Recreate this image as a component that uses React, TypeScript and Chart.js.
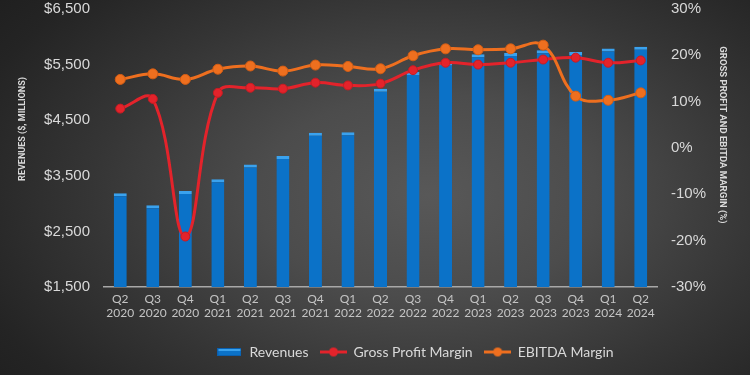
import React, { useEffect, useRef } from "react";
import { Chart, registerables } from "chart.js";

Chart.register(...registerables);

const quarters = ["Q2", "Q3", "Q4", "Q1", "Q2", "Q3", "Q4", "Q1", "Q2", "Q3", "Q4", "Q1", "Q2", "Q3", "Q4", "Q1", "Q2"];
const years = ["2020", "2020", "2020", "2021", "2021", "2021", "2021", "2022", "2022", "2022", "2022", "2023", "2023", "2023", "2023", "2024", "2024"];
const revenues = [3185, 2970, 3225, 3440, 3705, 3855, 4275, 4285, 5065, 5365, 5540, 5685, 5710, 5760, 5725, 5790, 5820];
const grossProfitMargin = [8.5, 10.6, -19.1, 11.9, 13.0, 12.8, 14.1, 13.5, 13.9, 16.8, 18.4, 18.0, 18.4, 19.1, 19.5, 18.4, 18.9];
const ebitdaMargin = [14.8, 16.0, 14.8, 17.0, 17.7, 16.6, 17.9, 17.6, 17.1, 19.9, 21.4, 21.2, 21.4, 22.2, 11.2, 10.3, 11.9];
const revenueTicks = [1500, 2500, 3500, 4500, 5500, 6500];
const marginTicks = [-30, -20, -10, 0, 10, 20, 30];

const BAR = "#0b72c8";
const BAR_TOP = "#3aa2ee";
const RED = "#e3232b";
const ORANGE = "#ee6f1f";

function makeBarIcon() {
  const c = document.createElement("canvas");
  c.width = 24;
  c.height = 8;
  const g = c.getContext("2d")!;
  g.fillStyle = "#0a5fae";
  g.fillRect(0, 0, 24, 8);
  g.fillStyle = BAR;
  g.fillRect(1, 2, 22, 5);
  g.fillStyle = BAR_TOP;
  g.fillRect(1, 1, 22, 2);
  return c;
}

function makeLineIcon(color: string) {
  const c = document.createElement("canvas");
  c.width = 27;
  c.height = 11;
  const g = c.getContext("2d")!;
  g.strokeStyle = color;
  g.lineWidth = 3;
  g.beginPath();
  g.moveTo(0, 5.5);
  g.lineTo(27, 5.5);
  g.stroke();
  g.fillStyle = color;
  g.beginPath();
  g.arc(13.5, 5.5, 4.5, 0, Math.PI * 2);
  g.fill();
  return c;
}

export default function App() {
  const ref = useRef<HTMLCanvasElement>(null);

  useEffect(() => {
    if (!ref.current) return;
    const labels = quarters.map((q, i) => [q, years[i]]);
    const icons = [makeBarIcon(), makeLineIcon(RED), makeLineIcon(ORANGE)];
    const tickFont = { family: "'Liberation Sans', Arial, sans-serif", size: 15 };
    const titleFont = { family: "Roboto, sans-serif", size: 9, weight: "bold" as const };

    const legendShift = {
      id: "legendShift",
      afterLayout(chart: any) {
        const lg = chart.legend;
        if (lg) {
          lg.left += 40;
          lg.right += 40;
        }
      },
    };

    const chart = new Chart(ref.current, {
      type: "bar",
      data: {
        labels,
        datasets: [
          {
            type: "bar",
            label: "Revenues",
            data: revenues,
            yAxisID: "y",
            backgroundColor: BAR,
            borderColor: BAR_TOP,
            borderWidth: { top: 3, left: 0, right: 0, bottom: 0 },
            borderSkipped: "bottom",
            barPercentage: 0.4,
            categoryPercentage: 1,
            order: 3,
          },
          {
            type: "line",
            label: "Gross Profit Margin",
            data: grossProfitMargin,
            yAxisID: "y1",
            borderColor: RED,
            backgroundColor: RED,
            borderWidth: 3,
            pointRadius: 4.5,
            pointBackgroundColor: RED,
            pointBorderColor: "#c81b22",
            pointBorderWidth: 1,
            tension: 0.4,
            order: 2,
          },
          {
            type: "line",
            label: "EBITDA Margin",
            data: ebitdaMargin,
            yAxisID: "y1",
            borderColor: ORANGE,
            backgroundColor: ORANGE,
            borderWidth: 3,
            pointRadius: 5,
            pointBackgroundColor: ORANGE,
            pointBorderColor: "#d45d14",
            pointBorderWidth: 1,
            tension: 0.4,
            order: 1,
          },
        ],
      },
      options: {
        animation: false,
        responsive: false,
        maintainAspectRatio: false,
        layout: { padding: { top: 0, bottom: 6, left: 0, right: 0 } },
        plugins: {
          tooltip: { enabled: false },
          legend: {
            position: "bottom",
            labels: {
              color: "#d9d9d9",
              font: { family: "Lato, 'Open Sans', sans-serif", size: 14 },
              usePointStyle: true,
              pointStyleWidth: 26,
              padding: 12,
              generateLabels: (ch: any) =>
                ch.data.datasets.map((ds: any, i: number) => ({
                  text: ds.label,
                  pointStyle: icons[i],
                  fillStyle: "transparent",
                  strokeStyle: "transparent",
                  lineWidth: 0,
                  fontColor: "#d9d9d9",
                  hidden: false,
                  datasetIndex: i,
                })),
            },
          },
        },
        scales: {
          x: {
            grid: { display: false, drawTicks: false },
            border: { display: true, color: "#a8a8a8", width: 1.5 },
            ticks: {
              color: "#c4c4c4",
              font: { family: "Lato, 'Open Sans', sans-serif", size: 12, lineHeight: 1.1 },
              padding: 6,
              maxRotation: 0,
              autoSkip: false,
            },
            afterFit: (s: any) => {
              s.height = 46;
            },
          },
          y: {
            position: "left",
            min: 1500,
            max: 6500,
            afterBuildTicks: (s: any) => {
              s.ticks = revenueTicks.map((v) => ({ value: v }));
            },
            grid: { display: false, drawTicks: true, tickLength: 14 },
            border: { display: false },
            ticks: {
              color: "#d9d9d9",
              font: tickFont,
              padding: 0,
              callback: (v: any) => "$" + Number(v).toLocaleString("en-US"),
            },
            title: {
              display: true,
              text: "                 REVENUES ($, MILLIONS)",
              color: "#d9d9d9",
              font: titleFont,
              padding: { top: 17, bottom: 0 },
            },
            afterFit: (s: any) => {
              s.width = 104;
            },
          },
          y1: {
            position: "right",
            min: -30,
            max: 30,
            afterBuildTicks: (s: any) => {
              s.ticks = marginTicks.map((v) => ({ value: v }));
            },
            grid: { display: false, drawTicks: true, tickLength: 14 },
            border: { display: false },
            ticks: {
              color: "#d9d9d9",
              font: tickFont,
              padding: 0,
              callback: (v: any) => v + "%",
            },
            title: {
              display: true,
              text: "GROSS PROFIT AND EBITDA MARGIN (%)           ",
              color: "#d9d9d9",
              font: { family: "Roboto, sans-serif", size: 9.5, weight: "bold" as const },
              padding: { top: 22, bottom: 0 },
            },
            afterFit: (s: any) => {
              s.width = 93;
            },
          },
        },
      },
      plugins: [legendShift],
    });
    return () => chart.destroy();
  }, []);

  return (
    <div
      style={{
        position: "fixed",
        left: 0,
        top: 0,
        width: 750,
        height: 375,
        background:
          "radial-gradient(ellipse 75% 90% at 57% 52%, #585858 0%, #4c4c4c 30%, #353535 60%, #242424 85%, #1e1e1e 100%)",
      }}
    >
      <canvas ref={ref} width={750} height={375} style={{ display: "block" }} />
    </div>
  );
}
